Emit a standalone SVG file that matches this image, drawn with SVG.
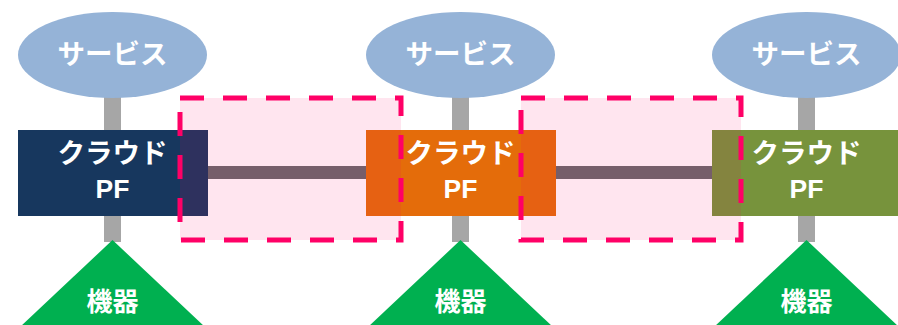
<svg xmlns="http://www.w3.org/2000/svg" width="898" height="325" viewBox="0 0 898 325">
<style>
.svc{fill:#95b3d7}
.t{fill:#fff;font-family:"Noto Sans CJK JP","Noto Sans",sans-serif;font-weight:bold;text-anchor:middle}
.pf{fill:#fff;font-family:"Liberation Sans","Noto Sans CJK JP",sans-serif;font-weight:bold;text-anchor:middle}
.vbar{fill:#a6a6a6}
.hbar{fill:#765e6a}
.dev{fill:#00b050}
.zone{fill:#ff0066;fill-opacity:0.1;stroke:#ff0066;stroke-width:5;stroke-dasharray:24 19}
</style>
<rect width="898" height="325" fill="#fff"/>
<g id="connectors">
<rect class="vbar" x="104" y="90" width="17" height="45"/>
<rect class="vbar" x="104" y="210" width="17" height="32"/>
<rect class="vbar" x="452" y="90" width="17" height="45"/>
<rect class="vbar" x="452" y="210" width="17" height="32"/>
<rect class="vbar" x="798" y="90" width="17" height="45"/>
<rect class="vbar" x="798" y="210" width="17" height="32"/>
</g>
<g id="service1"><ellipse class="svc" cx="112.5" cy="55" rx="94.5" ry="43"/><text class="t" x="112.5" y="64" font-size="27.5">サービス</text></g>
<g id="service2"><ellipse class="svc" cx="460.5" cy="55" rx="94.5" ry="43"/><text class="t" x="460.5" y="64" font-size="27.5">サービス</text></g>
<g id="service3"><ellipse class="svc" cx="806.5" cy="55" rx="94.5" ry="43"/><text class="t" x="806.5" y="64" font-size="27.5">サービス</text></g>
<g id="cloud1"><rect x="18" y="130" width="190" height="86" fill="#17375e"/><text class="t" x="112.5" y="163" font-size="27.5">クラウド</text><text class="pf" x="112.5" y="198" font-size="26.5">PF</text></g>
<g id="cloud2"><rect x="366" y="130" width="190" height="86" fill="#e46c0a"/><text class="t" x="460.5" y="163" font-size="27.5">クラウド</text><text class="pf" x="460.5" y="198" font-size="26.5">PF</text></g>
<g id="cloud3"><rect x="712" y="130" width="190" height="86" fill="#77933c"/><text class="t" x="806.5" y="163" font-size="27.5">クラウド</text><text class="pf" x="806.5" y="198" font-size="26.5">PF</text></g>
<g id="device1"><polygon class="dev" points="112.5,240 205,327 20,327"/><text class="t" x="112.5" y="311" font-size="26">機器</text></g>
<g id="device2"><polygon class="dev" points="460.5,240 553,327 368,327"/><text class="t" x="460.5" y="311" font-size="26">機器</text></g>
<g id="device3"><polygon class="dev" points="806.5,240 899,327 714,327"/><text class="t" x="806.5" y="311" font-size="26">機器</text></g>
<g id="zone1"><rect class="zone" x="180" y="98" width="221" height="142"/></g>
<g id="zone2"><rect class="zone" x="521" y="98" width="220" height="142"/></g>
<g id="links">
<rect class="hbar" x="208" y="166" width="158" height="13"/>
<rect class="hbar" x="556" y="166" width="156" height="13"/>
</g>
</svg>
